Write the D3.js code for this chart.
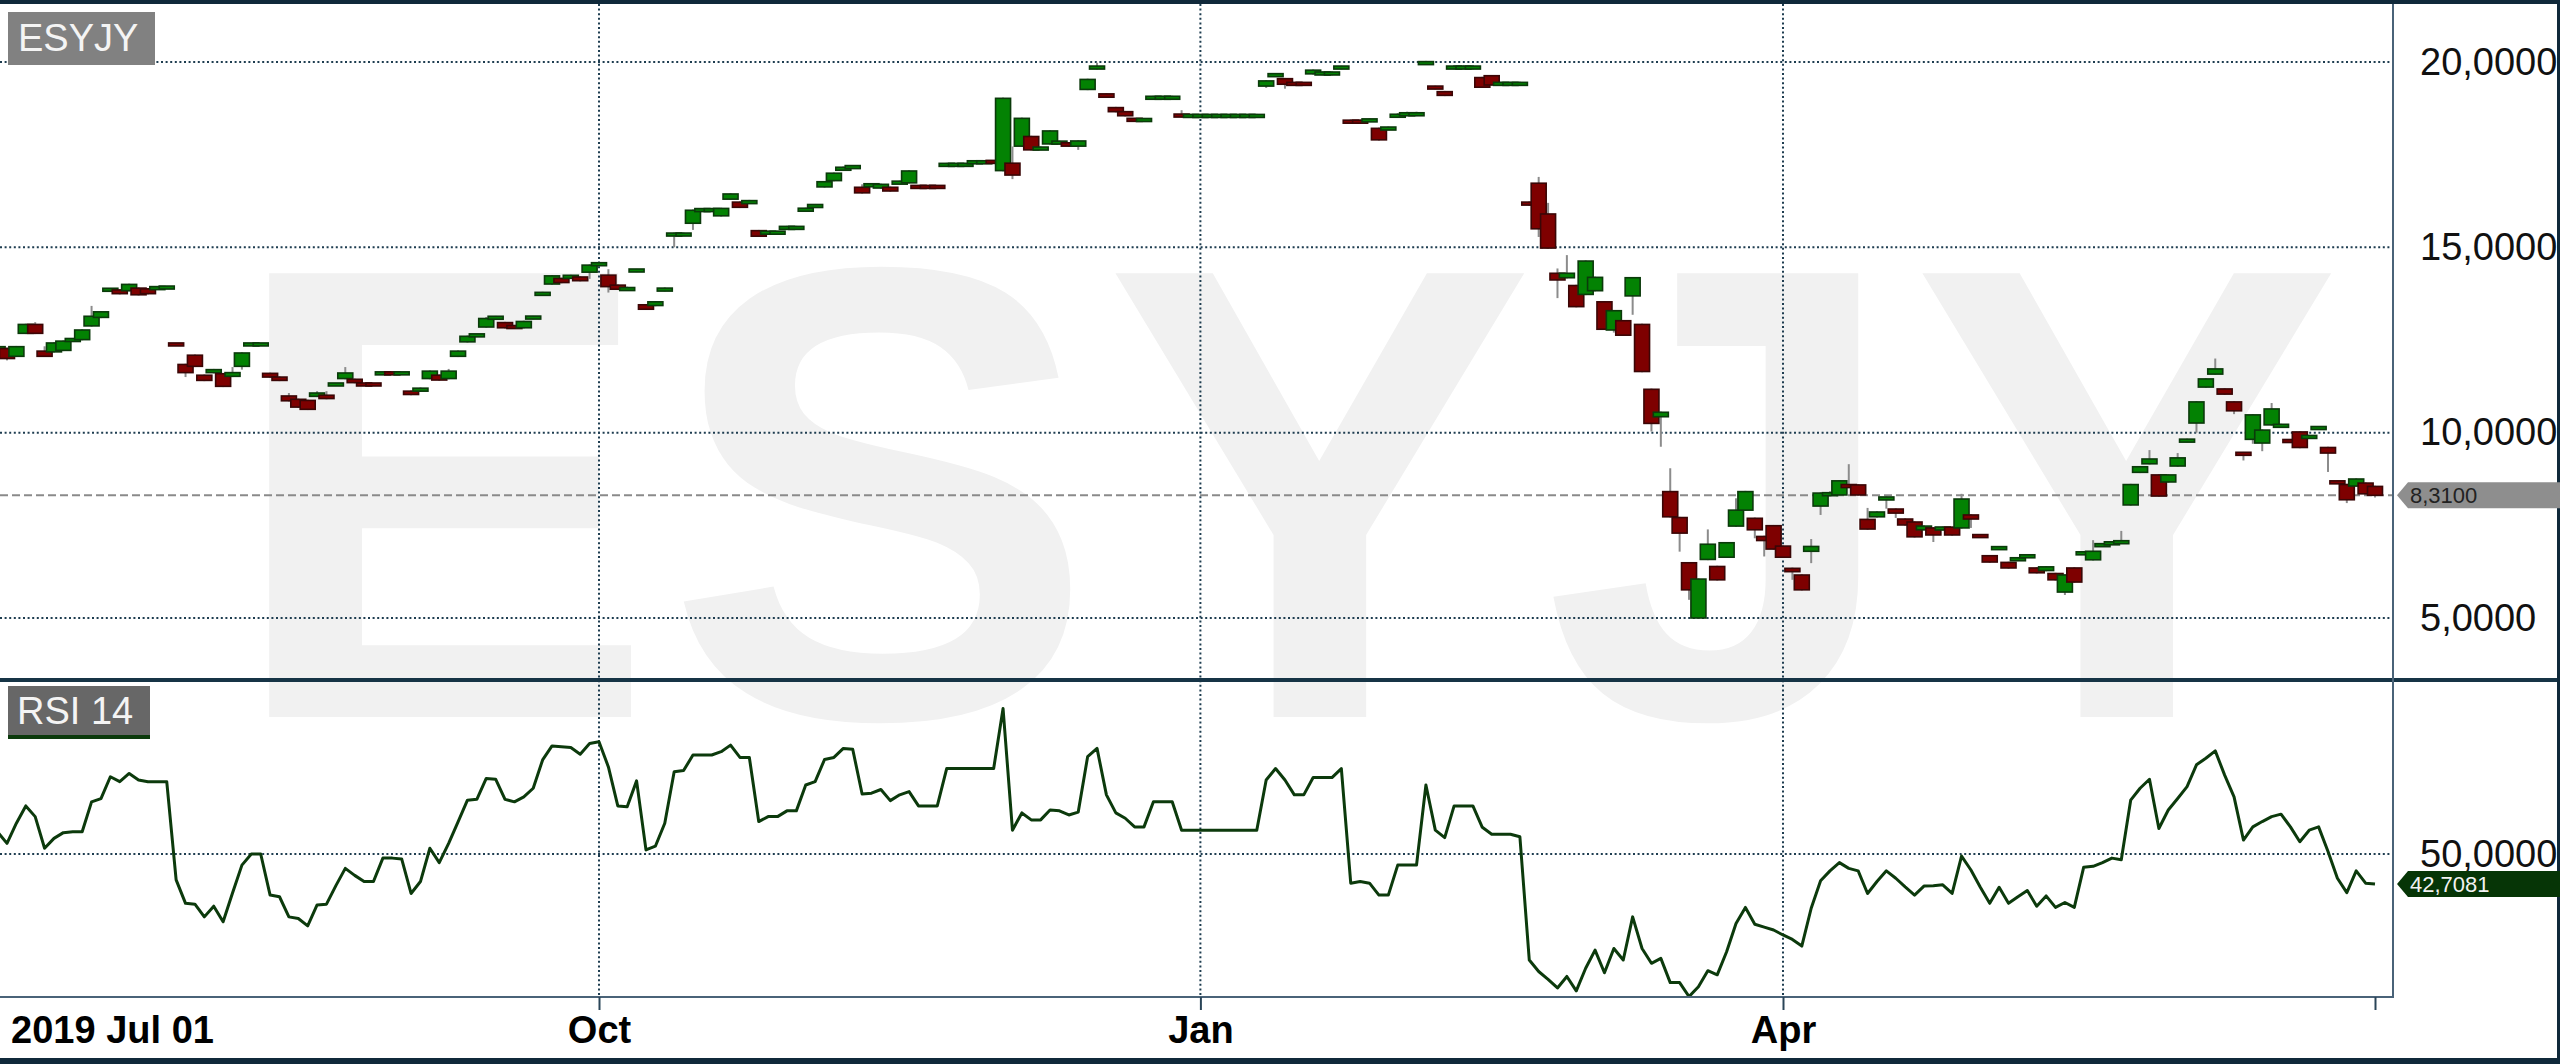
<!DOCTYPE html>
<html><head><meta charset="utf-8">
<script src="https://cdn.jsdelivr.net/npm/d3@7"></script>
<style>
html,body{margin:0;padding:0;background:#fff;}
svg{display:block;}
text{font-family:"Liberation Sans",Arial,sans-serif;}
</style></head><body>
<svg id="chart" width="2560" height="1064"></svg>
<script>
// ---------------- data ----------------
const symbol = "ESYJY";
const rsiTitle = "RSI 14";
const xTickIndex = [0, 64, 128, 190, 253];
const xTickLabels = ["2019 Jul 01", "Oct", "Jan", "Apr", ""];
const priceTicks = [5, 10, 15, 20];
const rsiTicks = [50];
const lastPrice = 8.31;
const lastRsi = 42.7081;

// one row per trading day: [open, high, low, close]
const ohlcRows = [
[12.12,12.35,12.1,12.32],[12.27,12.3,11.95,12.0],[12.06,12.34,12.04,12.32],[12.68,12.94,12.66,12.92],[12.92,12.98,12.66,12.68],
[12.2,12.33,12.05,12.06],[12.18,12.44,12.16,12.42],[12.22,12.49,12.2,12.47],[12.47,12.55,12.45,12.53],[12.51,12.79,12.49,12.77],
[12.88,13.42,12.86,13.14],[13.11,13.28,13.09,13.26],[13.83,13.9,13.81,13.88],[13.85,13.87,13.73,13.75],[13.83,14.02,13.81,14.0],
[13.9,13.92,13.7,13.72],[13.88,13.9,13.73,13.75],[13.88,13.94,13.86,13.92],[13.9,13.95,13.88,13.93],[12.4,12.42,12.34,12.36],
[11.84,11.86,11.5,11.62],[12.09,12.11,11.77,11.79],[11.55,11.57,11.39,11.41],[11.62,11.72,11.6,11.7],[11.59,11.61,11.23,11.25],
[11.52,11.77,11.5,11.62],[11.79,12.17,11.7,12.15],[12.36,12.42,12.34,12.4],[12.36,12.42,12.34,12.4],[11.6,11.62,11.48,11.5],
[11.5,11.52,11.39,11.41],[10.99,11.07,10.84,10.86],[10.9,10.92,10.67,10.69],[10.87,10.89,10.61,10.63],[10.98,11.12,10.96,11.07],
[11.01,11.12,10.9,10.92],[11.28,11.34,11.26,11.32],[11.46,11.77,11.44,11.61],[11.44,11.46,11.33,11.35],[11.32,11.34,11.26,11.28],
[11.32,11.34,11.26,11.28],[11.58,11.64,11.56,11.62],[11.62,11.64,11.56,11.58],[11.58,11.64,11.56,11.62],[11.12,11.14,11.01,11.03],
[11.12,11.22,11.1,11.2],[11.46,11.68,11.44,11.66],[11.55,11.57,11.4,11.42],[11.46,11.72,11.44,11.66],[12.06,12.22,12.04,12.2],
[12.45,12.62,12.43,12.6],[12.6,12.67,12.58,12.65],[12.85,13.12,12.83,13.08],[13.08,13.15,13.06,13.12],[12.97,12.99,12.81,12.83],
[12.87,12.89,12.81,12.83],[12.83,13.02,12.81,13.0],[13.08,13.15,13.06,13.13],[13.72,13.8,13.7,13.77],[14.01,14.25,13.99,14.23],
[14.16,14.18,14.03,14.05],[14.18,14.26,14.16,14.23],[14.2,14.22,14.08,14.1],[14.33,14.54,14.15,14.52],[14.52,14.6,14.5,14.57],
[14.25,14.41,13.78,13.94],[13.98,14.0,13.85,13.87],[13.85,13.94,13.83,13.9],[14.35,14.42,14.33,14.4],[13.45,13.47,13.31,13.33],
[13.43,13.55,13.41,13.53],[13.83,13.92,13.81,13.89],[15.32,15.4,15.0,15.37],[15.32,15.4,15.3,15.37],[15.65,16.02,15.47,16.0],
[15.98,16.05,15.96,16.03],[15.98,16.05,15.96,16.03],[15.85,16.07,15.83,16.05],[16.3,16.46,16.28,16.44],[16.22,16.24,16.06,16.08],
[16.19,16.28,16.17,16.25],[15.45,15.47,15.28,15.3],[15.37,15.45,15.35,15.42],[15.37,15.45,15.35,15.42],[15.5,15.58,15.47,15.55],
[15.5,15.58,15.47,15.55],[15.99,16.07,15.96,16.04],[16.09,16.17,16.07,16.14],[16.63,16.79,16.61,16.77],[16.8,17.02,16.78,17.0],
[17.09,17.18,17.07,17.15],[17.14,17.22,17.12,17.19],[16.62,16.7,16.45,16.47],[16.65,16.73,16.63,16.7],[16.6,16.72,16.58,16.7],
[16.62,16.64,16.5,16.52],[16.72,16.8,16.7,16.77],[16.74,17.08,16.72,17.06],[16.66,16.68,16.58,16.6],[16.66,16.68,16.58,16.6],
[16.66,16.68,16.58,16.6],[17.2,17.28,17.18,17.25],[17.2,17.28,17.18,17.25],[17.2,17.28,17.18,17.25],[17.27,17.35,17.24,17.32],
[17.27,17.35,17.24,17.32],[17.33,17.35,17.25,17.28],[17.07,19.04,17.05,19.02],[17.27,17.72,16.84,16.95],[17.73,18.5,17.71,18.48],
[17.99,18.01,17.61,17.63],[17.64,17.72,17.62,17.69],[17.79,18.16,17.77,18.14],[17.8,17.88,17.78,17.85],[17.82,17.84,17.71,17.73],
[17.73,17.89,17.63,17.87],[19.26,19.55,19.24,19.53],[19.82,19.98,19.8,19.88],[19.14,19.16,19.03,19.05],[18.77,18.79,18.64,18.66],
[18.66,18.68,18.53,18.55],[18.47,18.49,18.39,18.41],[18.41,18.49,18.39,18.46],[19.01,19.09,18.99,19.06],[19.01,19.09,18.99,19.06],
[19.01,19.09,18.99,19.06],[18.59,18.7,18.5,18.52],[18.52,18.6,18.5,18.57],[18.52,18.6,18.5,18.57],[18.52,18.6,18.5,18.57],
[18.52,18.6,18.5,18.57],[18.52,18.6,18.5,18.57],[18.52,18.6,18.5,18.57],[18.52,18.6,18.5,18.57],[18.52,18.6,18.5,18.57],
[19.35,19.51,19.3,19.49],[19.62,19.7,19.6,19.67],[19.55,19.57,19.28,19.4],[19.44,19.46,19.36,19.38],[19.44,19.46,19.36,19.38],
[19.68,19.8,19.66,19.78],[19.66,19.75,19.64,19.72],[19.66,19.75,19.64,19.72],[19.82,19.9,19.8,19.88],[18.43,18.45,18.33,18.35],
[18.43,18.45,18.33,18.35],[18.4,18.48,18.38,18.45],[18.21,18.23,17.88,17.9],[18.18,18.26,18.16,18.23],[18.52,18.62,18.5,18.58],
[18.56,18.66,18.54,18.62],[18.56,18.66,18.54,18.62],[19.94,20.03,19.92,20.0],[19.34,19.36,19.26,19.28],[19.2,19.22,19.08,19.1],
[19.82,19.92,19.8,19.88],[19.82,19.92,19.8,19.88],[19.82,19.92,19.8,19.88],[19.58,19.6,19.3,19.32],[19.63,19.65,19.36,19.38],
[19.38,19.47,19.36,19.44],[19.38,19.47,19.36,19.44],[19.38,19.47,19.36,19.44],[16.22,16.24,16.12,16.14],[16.73,16.9,15.28,15.5],
[15.9,16.2,14.96,14.98],[14.3,14.43,13.63,14.12],[14.18,14.79,14.16,14.3],[13.97,13.99,13.38,13.4],[13.73,14.65,13.71,14.63],
[13.83,14.21,13.81,14.19],[13.53,13.55,12.77,12.79],[12.77,13.31,12.7,13.29],[13.02,13.04,12.61,12.63],[13.69,14.2,13.18,14.18],
[12.92,12.94,11.63,11.65],[11.17,11.19,10.03,10.25],[10.43,10.57,9.62,10.55],[8.41,9.04,7.71,7.73],[7.71,7.73,6.79,7.29],
[6.49,6.51,5.49,5.76],[5.0,6.07,4.98,6.05],[6.58,7.39,6.56,6.99],[6.39,6.41,6.01,6.03],[6.64,7.05,6.62,7.03],
[7.48,8.23,7.46,7.91],[7.91,8.43,7.89,8.41],[7.69,7.71,7.15,7.38],[7.2,7.22,6.66,7.09],[7.49,7.51,6.84,6.86],
[6.94,6.96,6.62,6.64],[6.34,6.36,6.03,6.25],[6.16,6.18,5.74,5.76],[6.8,7.13,6.48,6.93],[8.02,8.39,7.78,8.37],
[8.3,8.42,8.28,8.38],[8.32,8.72,8.3,8.7],[8.59,9.15,8.51,8.53],[8.59,8.61,8.3,8.32],[7.66,7.97,7.38,7.4],
[7.73,7.88,7.71,7.86],[8.19,8.28,7.95,8.26],[7.94,7.96,7.7,7.83],[7.67,7.69,7.49,7.51],[7.59,7.61,7.17,7.19],
[7.38,7.5,7.36,7.48],[7.43,7.45,7.05,7.24],[7.38,7.47,7.36,7.45],[7.45,7.47,7.22,7.24],[7.43,8.35,7.41,8.21],
[7.78,7.8,7.43,7.67],[7.24,7.26,7.16,7.18],[6.68,6.7,6.49,6.51],[6.86,6.94,6.84,6.91],[6.5,6.52,6.33,6.35],
[6.56,6.64,6.54,6.61],[6.64,6.72,6.62,6.69],[6.35,6.37,6.2,6.22],[6.28,6.4,6.26,6.38],[6.2,6.22,6.01,6.03],
[5.7,6.18,5.62,6.16],[6.35,6.37,5.95,5.97],[6.72,6.8,6.7,6.77],[6.57,7.1,6.55,6.8],[6.94,7.02,6.92,6.99],
[6.99,7.07,6.97,7.04],[7.02,7.35,7.0,7.07],[8.05,8.62,8.03,8.6],[8.93,9.1,8.91,9.08],[9.16,9.53,9.14,9.29],
[8.86,8.88,8.27,8.29],[8.67,8.88,8.65,8.86],[9.1,9.45,9.08,9.32],[9.76,9.84,9.74,9.81],[10.26,10.85,10.0,10.83],
[11.23,11.47,11.21,11.45],[11.58,12.0,11.56,11.72],[11.18,11.2,11.02,11.04],[10.83,10.85,10.5,10.59],[9.46,9.48,9.25,9.4],
[9.82,10.5,9.7,10.48],[9.72,10.09,9.5,10.07],[10.21,10.8,10.19,10.64],[10.16,10.24,10.14,10.21],[9.8,9.82,9.72,9.75],
[10.02,10.04,9.58,9.6],[9.86,9.94,9.84,9.91],[10.1,10.18,10.08,10.15],[9.6,9.62,8.94,9.45],[8.68,8.7,8.62,8.64],
[8.6,8.62,8.1,8.19],[8.56,8.77,8.54,8.75],[8.64,8.66,8.3,8.35],[8.55,8.57,8.25,8.31]
];

const rsi14 = [
55.4,52.6,57.5,61.7,59.1,51.4,53.8,55.2,55.4,55.4,
62.7,63.5,68.8,67.6,69.6,68.0,67.6,67.6,67.6,43.7,
38.0,37.8,34.7,37.3,33.5,40.5,47.3,50.0,50.0,40.0,
39.6,34.7,34.3,32.5,37.6,37.8,42.3,46.5,44.8,43.3,
43.3,49.0,49.0,48.8,40.4,43.3,51.4,47.9,52.6,57.8,
63.1,63.3,68.4,68.2,63.3,62.7,63.9,66.0,72.9,76.3,
76.1,75.9,74.3,76.9,77.3,71.2,61.7,61.5,67.8,51.0,
51.9,57.5,70.0,70.3,74.1,74.1,74.1,74.9,76.5,73.5,
73.5,57.9,59.1,59.1,60.5,60.5,66.8,67.6,73.0,73.5,
75.7,75.5,64.6,64.8,65.7,63.0,64.4,65.2,61.7,61.7,
61.7,70.8,70.8,70.8,70.8,70.8,70.8,85.4,55.8,60.0,
58.3,58.3,60.7,60.5,59.5,60.2,73.7,75.7,64.4,60.0,
58.7,56.6,56.6,62.7,62.7,62.7,55.8,55.8,55.8,55.8,
55.8,55.8,55.8,55.8,55.8,68.0,70.8,68.0,64.4,64.4,
68.6,68.6,68.6,70.8,42.9,43.3,42.9,40.0,40.0,47.3,
47.3,47.3,66.8,55.8,54.0,61.7,61.7,61.7,56.5,54.8,
54.8,54.8,54.2,24.2,21.4,19.5,17.4,20.2,16.7,22.2,
26.6,21.1,27.0,24.2,34.7,27.0,23.4,24.6,18.7,18.7,
15.3,17.7,21.6,20.6,26.2,33.1,37.0,32.9,32.2,31.5,
30.3,29.2,27.6,36.8,43.5,45.9,47.9,46.5,45.9,40.4,
43.3,45.9,44.1,42.0,40.0,42.2,42.3,42.5,40.4,49.5,
46.1,41.9,38.0,41.9,38.0,39.6,41.1,37.3,39.8,37.0,
38.2,37.0,46.8,47.0,47.9,49.0,48.6,63.1,66.0,68.2,
56.2,60.7,63.5,66.4,71.7,73.3,75.1,69.2,63.9,53.4,
56.6,57.9,59.1,59.7,56.6,53.0,55.8,56.6,50.6,44.1,
40.6,45.9,42.9,42.7081
];

// ---------------- layout ----------------
const W = 2560, H = 1064;
const plotRight = 2393;
const pTop = 4, pBot = 678;       // price panel
const rTop = 682, rBot = 997;     // rsi panel
const candleW = 15;

const svg = d3.select("#chart");
const fmt4 = d3.formatLocale({decimal: ",", thousands: ".", grouping: [3], currency: ["", ""]}).format(".4f");

const x = d3.scaleLinear().domain([0, 253]).range([-2.4, 2375]);
const yP = d3.scaleLinear().domain([5, 20]).range([618, 62]);
const yR = d3.scaleLinear().domain([15.2, 92.35]).range([997, 680]);

const bars = ohlcRows.map((r, i) => ({i, o: r[0], h: r[1], l: r[2], c: r[3]}));

svg.append("rect").attr("width", W).attr("height", H).attr("fill", "#fff");

const defs = svg.append("defs");
defs.append("clipPath").attr("id", "clipP").append("rect")
  .attr("x", 0).attr("y", pTop).attr("width", plotRight).attr("height", pBot - pTop);
defs.append("clipPath").attr("id", "clipR").append("rect")
  .attr("x", 0).attr("y", rTop).attr("width", plotRight).attr("height", rBot - rTop);

// watermark
svg.append("text").text(symbol)
  .attr("x", 226).attr("y", 717)
  .attr("font-size", 645).attr("font-weight", "bold").attr("letter-spacing", 9)
  .attr("fill", "#f1f1f1");

// grid
const gridColor = "#1e3d50";
const grid = svg.append("g").attr("stroke", gridColor).attr("stroke-width", 2).attr("stroke-dasharray", "2,2.6");
grid.selectAll(".hp").data(priceTicks).join("line")
  .attr("x1", 0).attr("x2", plotRight).attr("y1", d => yP(d)).attr("y2", d => yP(d));
grid.selectAll(".hr").data(rsiTicks).join("line")
  .attr("x1", 0).attr("x2", plotRight).attr("y1", d => yR(d)).attr("y2", d => yR(d));
grid.selectAll(".v").data(xTickIndex.slice(1, 4)).join("line")
  .attr("x1", d => x(d)).attr("x2", d => x(d)).attr("y1", pTop).attr("y2", rBot);

// last price line
svg.append("line").attr("x1", 0).attr("x2", plotRight)
  .attr("y1", yP(lastPrice)).attr("y2", yP(lastPrice))
  .attr("stroke", "#8a8a8a").attr("stroke-width", 2).attr("stroke-dasharray", "8,4");

// candles
const cg = svg.append("g").attr("clip-path", "url(#clipP)");
const cand = cg.selectAll("g.c").data(bars).join("g");
cand.append("line")
  .attr("x1", d => x(d.i)).attr("x2", d => x(d.i))
  .attr("y1", d => yP(d.h)).attr("y2", d => yP(d.l))
  .attr("stroke", "#8c8c8c").attr("stroke-width", 2);
cand.append("rect")
  .attr("x", d => x(d.i) - candleW / 2)
  .attr("width", candleW)
  .attr("y", d => {
    const t = yP(Math.max(d.o, d.c)), b = yP(Math.min(d.o, d.c));
    return (b - t < 3) ? (t + b) / 2 - 1.5 : t;
  })
  .attr("height", d => Math.max(3, yP(Math.min(d.o, d.c)) - yP(Math.max(d.o, d.c))))
  .attr("fill", d => d.c >= d.o ? "#038203" : "#7e0000")
  .attr("stroke", d => d.c >= d.o ? "#0b3a0b" : "#3a0606")
  .attr("stroke-width", 1.6);

// RSI line
svg.append("path").datum(rsi14)
  .attr("clip-path", "url(#clipR)")
  .attr("fill", "none").attr("stroke", "#0c3a0c").attr("stroke-width", 3)
  .attr("stroke-linejoin", "round")
  .attr("d", d3.line().x((d, i) => x(i)).y(d => yR(d)));

// frame
const frame = "#10293a";
svg.append("rect").attr("x", 0).attr("y", 0).attr("width", W).attr("height", 4).attr("fill", frame);
svg.append("rect").attr("x", 0).attr("y", 678).attr("width", W).attr("height", 4).attr("fill", "#163446");
svg.append("rect").attr("x", 0).attr("y", 1058).attr("width", W).attr("height", 6).attr("fill", frame);
svg.append("rect").attr("x", W - 3).attr("y", 0).attr("width", 3).attr("height", H).attr("fill", frame);
svg.append("line").attr("x1", plotRight).attr("x2", plotRight).attr("y1", 4).attr("y2", rBot + 1)
  .attr("stroke", "#4a6378").attr("stroke-width", 2);
svg.append("line").attr("x1", 0).attr("x2", plotRight + 1).attr("y1", rBot).attr("y2", rBot)
  .attr("stroke", "#4a6378").attr("stroke-width", 2);

// axes
const axP = svg.append("g").attr("transform", `translate(${plotRight},0)`)
  .call(d3.axisRight(yP).tickValues(priceTicks).tickSize(0).tickPadding(27).tickFormat(fmt4));
const axR = svg.append("g").attr("transform", `translate(${plotRight},0)`)
  .call(d3.axisRight(yR).tickValues(rsiTicks).tickSize(0).tickPadding(27).tickFormat(fmt4));
[axP, axR].forEach(a => {
  a.select(".domain").remove();
  a.selectAll("text").attr("font-size", 38).attr("fill", "#111").attr("font-family", "Liberation Sans, Arial, sans-serif");
});

const axX = svg.append("g").attr("transform", `translate(0,${rBot})`)
  .call(d3.axisBottom(x).tickValues(xTickIndex).tickSize(13).tickPadding(6).tickFormat((d, i) => xTickLabels[i]));
axX.select(".domain").remove();
axX.selectAll("line").attr("stroke", "#2a4558").attr("stroke-width", 2);
axX.selectAll("text").attr("font-size", 38).attr("font-weight", "bold").attr("fill", "#000")
  .attr("font-family", "Liberation Sans, Arial, sans-serif");
axX.selectAll(".tick").filter((d, i) => i === 0).select("text").attr("text-anchor", "start").attr("x", 13);

// panel labels
svg.append("rect").attr("x", 8).attr("y", 12).attr("width", 147).attr("height", 53).attr("fill", "#818181");
svg.append("text").text(symbol).attr("x", 18).attr("y", 51).attr("font-size", 38).attr("fill", "#f4f4f4");
svg.append("rect").attr("x", 8).attr("y", 686).attr("width", 142).attr("height", 53).attr("fill", "#676767");
svg.append("rect").attr("x", 8).attr("y", 735).attr("width", 142).attr("height", 4).attr("fill", "#0c3a0c");
svg.append("text").text(rsiTitle).attr("x", 17).attr("y", 724).attr("font-size", 38).attr("fill", "#f4f4f4");

// value markers
function marker(yc, fill, txt, txtFill) {
  const h = 13;
  svg.append("path")
    .attr("d", `M${plotRight + 4},${yc} L${plotRight + 15},${yc - h} L${W},${yc - h} L${W},${yc + h} L${plotRight + 15},${yc + h} Z`)
    .attr("fill", fill);
  svg.append("text").text(txt).attr("x", plotRight + 17).attr("y", yc).attr("dy", "0.36em")
    .attr("font-size", 22).attr("fill", txtFill);
}
marker(yP(lastPrice), "#8e8e8e", fmt4(lastPrice), "#222");
marker(yR(lastRsi), "#063506", fmt4(lastRsi), "#f2f2f2");
</script>
</body></html>
